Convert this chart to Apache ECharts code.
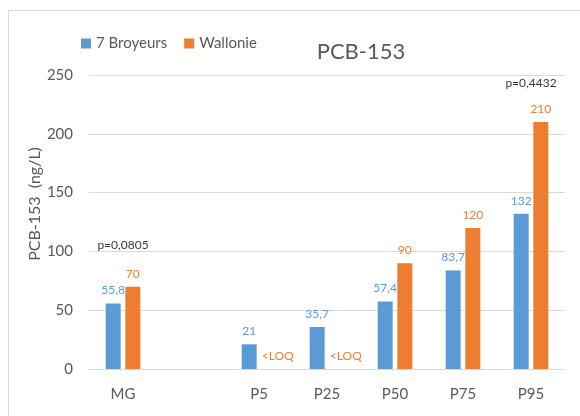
<!DOCTYPE html>
<html>
<head>
<meta charset="utf-8">
<script src="https://cdn.jsdelivr.net/npm/echarts@6/dist/echarts.min.js"></script>
<style>
  html, body { margin: 0; padding: 0; background: #fff; }
  #chart { width: 580px; height: 416px; }
</style>
</head>
<body>
<div id="chart"></div>
<script>
// données
var categories = ['MG', '', 'P5', 'P25', 'P50', 'P75', 'P95'];
var broyeurs = [55.8, null, 21, 35.7, 57.4, 83.7, 132];
var wallonie = [70, null, 0, 0, 90, 120, 210];
var wallonieLabels = ['70', '', '<LOQ', '<LOQ', '90', '120', '210'];
var pCategories = ['MG', 'P95'];
var pValues = [105, 243];
var pTexts = ['p=0,0805', 'p=0,4432'];
var yTicks = { min: 0, max: 250, interval: 50 };

var font = 'Lato, "Open Sans", sans-serif';
var blue = '#5b9bd5';
var orange = '#ed7d31';

var myChart = echarts.init(document.getElementById('chart'));
var option = {
  animation: false,
  textStyle: { fontFamily: font },
  title: {
    text: 'PCB-153',
    left: 356,
    top: 36,
    textAlign: 'center',
    textStyle: { color: '#595959', fontSize: 22, fontWeight: 'normal', fontFamily: font }
  },
  legend: {
    data: ['7 Broyeurs', 'Wallonie'],
    left: 76,
    top: 31,
    icon: 'rect',
    itemWidth: 10,
    itemHeight: 10,
    itemGap: 17,
    textStyle: { color: '#595959', fontSize: 15, fontFamily: font }
  },
  grid: { left: 89, right: 15, top: 75, bottom: 47 },
  xAxis: {
    type: 'category',
    data: categories,
    axisTick: { show: false },
    axisLine: { lineStyle: { color: '#d9d9d9', width: 1 } },
    axisLabel: { color: '#595959', fontSize: 15, margin: 18, interval: 0, fontFamily: font }
  },
  yAxis: {
    type: 'value',
    min: yTicks.min,
    max: yTicks.max,
    interval: yTicks.interval,
    axisLine: { show: false },
    axisTick: { show: false },
    splitLine: { lineStyle: { color: '#d9d9d9', width: 1 } },
    axisLabel: { color: '#595959', fontSize: 15, margin: 16, fontFamily: font }
  },
  graphic: [
    {
      type: 'rect',
      shape: { x: 8.5, y: 10.5, width: 600, height: 500 },
      style: { fill: 'none', stroke: '#d9d9d9', lineWidth: 1 },
      silent: true
    },
    {
      type: 'text',
      x: 35,
      y: 204,
      rotation: Math.PI / 2,
      style: {
        text: 'PCB-153  (ng/L)',
        fill: '#595959',
        font: '16px ' + font,
        align: 'center',
        verticalAlign: 'middle'
      }
    }
  ],
  series: [
    {
      name: '7 Broyeurs',
      type: 'bar',
      color: blue,
      barWidth: 15,
      barGap: '31%',
      data: broyeurs,
      label: {
        show: true,
        position: 'top',
        distance: 7,
        color: blue,
        fontSize: 12,
        fontFamily: font,
        formatter: function (p) {
          return String(p.value).replace('.', ',');
        }
      }
    },
    {
      name: 'Wallonie',
      type: 'bar',
      color: orange,
      barWidth: 15,
      data: wallonie.map(function (v, i) {
        if (v === 0) {
          return { value: v, label: { offset: [9, 0] } };
        }
        return v;
      }),
      label: {
        show: true,
        position: 'top',
        distance: 7,
        color: orange,
        fontSize: 12,
        fontFamily: font,
        formatter: function (p) {
          return wallonieLabels[p.dataIndex];
        }
      }
    },
    {
      type: 'scatter',
      symbolSize: 0,
      silent: true,
      data: pCategories.map(function (c, i) { return [c, pValues[i]]; }),
      label: {
        show: true,
        position: 'inside',
        color: '#000000',
        fontSize: 12,
        fontFamily: font,
        formatter: function (p) {
          return pTexts[p.dataIndex];
        }
      }
    }
  ]
};
myChart.setOption(option);
</script>
</body>
</html>
